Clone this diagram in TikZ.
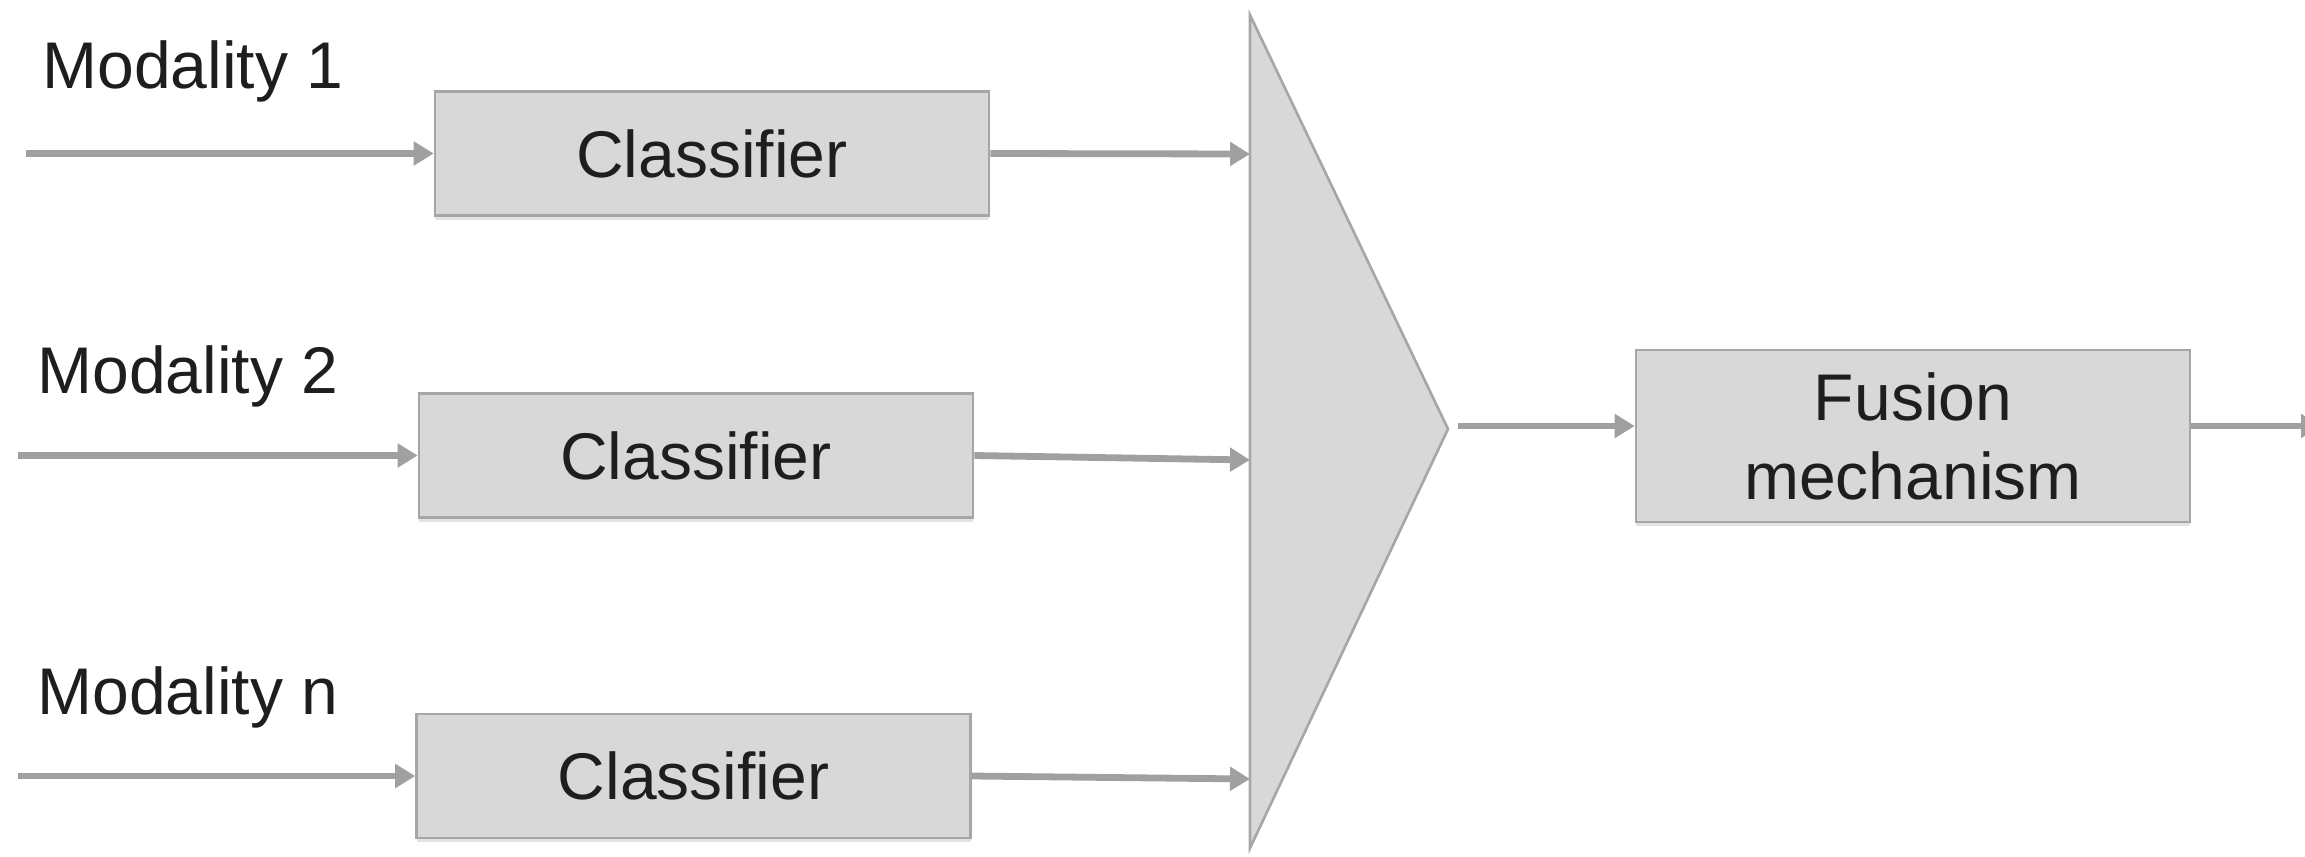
\documentclass[tikz,border=0pt]{standalone}
\usepackage{fontspec}
\setmainfont{Liberation Sans}
\usetikzlibrary{arrows.meta,shadows}
\definecolor{boxfill}{HTML}{D8D8D8}
\definecolor{boxline}{HTML}{A6A6A6}
\definecolor{flow}{HTML}{A0A0A0}
\definecolor{ink}{HTML}{1E1E1E}
\begin{document}
\begin{tikzpicture}[x=0.5pt,y=-0.5pt,
  font=\fontsize{33}{39.5}\selectfont,
  block/.style={draw=boxline,line width=1.3pt,fill=boxfill,text=ink,
    minimum width=277pt,minimum height=62pt,inner sep=0pt,align=center,
    drop shadow={shadow xshift=0pt,shadow yshift=-2pt,opacity=0.22}},
  label/.style={text=ink,inner sep=0pt},
  flowarrow/.style={draw=flow,line width=3.4pt,
    -{Triangle[length=10pt,width=11.5pt]}}]
\useasboundingbox (0,0) rectangle (2305,856);

% merging stage
\draw[draw=boxline,line width=1.3pt,fill=boxfill] (1250,15) -- (1448,429) -- (1250,848) -- cycle;
\coordinate (t1) at (1250,154);
\coordinate (t2) at (1250,460);
\coordinate (t3) at (1250,779);
\coordinate (tip) at (1458,426);

% per-modality classifiers
\node[block] (c1) at (712,153.5) {Classifier};
\node[block] (c2) at (696,455.5) {Classifier};
\node[block] (c3) at (693.5,776) {Classifier};

% fusion stage
\node[block,minimum height=86pt] (fus) at (1913,436) {Fusion\\mechanism};

% modality labels
\node[label] (m1) at (193,71) {Modality 1};
\node[label] (m2) at (188,376) {Modality 2};
\node[label] (m3) at (188,697) {Modality n};

% inputs and output
\coordinate (in1) at (26,153.5);
\coordinate (in2) at (18,455.5);
\coordinate (in3) at (18,776);
\coordinate (out) at (2321,426);

\draw[flowarrow] (in1) -- (c1.west);
\draw[flowarrow] (in2) -- (c2.west);
\draw[flowarrow] (in3) -- (c3.west);
\draw[flowarrow] (c1.east) -- (t1);
\draw[flowarrow] (c2.east) -- (t2);
\draw[flowarrow] (c3.east) -- (t3);
\draw[flowarrow] (tip) -- (fus.west |- tip);
\draw[flowarrow] (fus.east |- tip) -- (out);
\end{tikzpicture}
\end{document}
